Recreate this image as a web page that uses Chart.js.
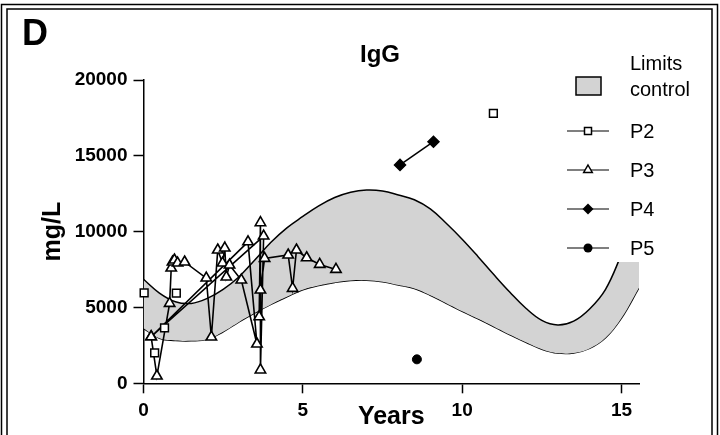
<!DOCTYPE html>
<html>
<head>
<meta charset="utf-8">
<script src="https://cdn.jsdelivr.net/npm/chart.js@4.4.0/dist/chart.umd.min.js"></script>
<style>
  body { margin: 0; background: #fff; }
  #wrap { width: 720px; height: 435px; }
</style>
</head>
<body>
<div id="wrap"><canvas id="chart" width="720" height="435"></canvas></div>
<script>
const xTicks = [0, 5, 10, 15];
const yTicks = [0, 5000, 10000, 15000, 20000];

// control limits (upper / lower curve of the grey band)
const limitYears = [0, 0.5, 1, 1.5, 2, 2.5, 3, 3.5, 4, 4.5, 5, 5.5, 6, 6.5, 7, 7.5, 8, 8.5,
  9, 9.5, 10, 10.5, 11, 11.5, 12, 12.5, 13, 13.5, 14, 14.5, 15, 15.55];
const limitUpper = [6860, 5950, 5380, 5270, 5600, 6200, 7030, 8150, 9300, 10250, 11000, 11700,
  12250, 12600, 12740, 12680, 12420, 12100, 11500, 10550, 9500, 8350, 7150, 6000, 4950, 4150,
  3850, 4100, 4900, 6200, 8500, 11200];
const limitLower = [3630, 2970, 2820, 2800, 2900, 3400, 4050, 4650, 5200, 5700, 6170, 6450,
  6650, 6780, 6800, 6700, 6480, 6250, 5800, 5280, 4750, 4250, 3730, 3200, 2700, 2250,
  1990, 2000, 2300, 3000, 4300, 6300];

const p2Years = [0.02, 0.35, 0.66, 1.03, 10.98];
const p2Values = [5970, 2000, 3650, 5950, 17800];

// P3 in the order the samples are joined
const p3Years = [6.04, 5.53, 5.12, 4.80, 4.68, 4.54, 3.80, 3.67, 3.63, 3.67, 3.67, 3.77,
  0.24, 0.42, 0.82, 0.87, 0.91, 0.97, 1.07, 1.29, 1.97, 2.13, 2.33, 2.48, 2.55, 2.60, 2.70,
  3.07, 3.56, 3.28, 0.24];
const p3Values = [7510, 7840, 8280, 8790, 6260, 8460, 8240, 6150, 4390, 10590, 880, 9710,
  3070, 480, 5270, 7600, 8000, 8130, 7930, 8000, 6940, 3050, 8790, 7930, 8920, 7010, 7800,
  6810, 2590, 9330, 3070];

const p4Years = [8.05, 9.1];
const p4Values = [14400, 15930];

const p5Years = [8.58];
const p5Values = [1580];

const FONT = "'Liberation Sans', Arial, sans-serif";

function pts(xs, ys) {
  return xs.map((x, i) => ({ x: x, y: ys[i] }));
}

function drawMarker(ctx, style, x, y) {
  ctx.save();
  ctx.lineWidth = 1.5;
  ctx.strokeStyle = "#000";
  ctx.beginPath();
  if (style === "rect") {
    ctx.fillStyle = "#fff";
    ctx.rect(x - 3.5, y - 3.5, 7, 7);
    ctx.fill();
    ctx.stroke();
  } else if (style === "triangle") {
    ctx.fillStyle = "#fff";
    ctx.moveTo(x, y - 5);
    ctx.lineTo(x + 4.3, y + 2.5);
    ctx.lineTo(x - 4.3, y + 2.5);
    ctx.closePath();
    ctx.fill();
    ctx.stroke();
  } else if (style === "rectRot") {
    ctx.fillStyle = "#000";
    ctx.moveTo(x, y - 5.5);
    ctx.lineTo(x + 5.5, y);
    ctx.lineTo(x, y + 5.5);
    ctx.lineTo(x - 5.5, y);
    ctx.closePath();
    ctx.fill();
  } else {
    ctx.fillStyle = "#000";
    ctx.arc(x, y, 4.5, 0, Math.PI * 2);
    ctx.fill();
  }
  ctx.restore();
}

const decorPlugin = {
  id: "decor",
  beforeDraw(chart) {
    const ctx = chart.ctx;
    ctx.save();
    ctx.fillStyle = "#fff";
    ctx.fillRect(0, 0, chart.width, chart.height);
    ctx.restore();
  },
  afterDatasetsDraw(chart) {
    const ctx = chart.ctx;
    ctx.save();
    // legend box
    ctx.fillStyle = "#fff";
    ctx.fillRect(562, 46, 140, 216);

    ctx.fillStyle = "#d3d3d3";
    ctx.fillRect(576, 77, 25, 18);
    ctx.lineWidth = 1.5;
    ctx.strokeStyle = "#000";
    ctx.strokeRect(576, 77, 25, 18);

    ctx.fillStyle = "#000";
    ctx.font = "20px " + FONT;
    ctx.textAlign = "left";
    ctx.textBaseline = "alphabetic";
    ctx.fillText("Limits", 630, 70);
    ctx.fillText("control", 630, 96);

    const items = [
      { label: "P2", style: "rect", y: 131 },
      { label: "P3", style: "triangle", y: 170 },
      { label: "P4", style: "rectRot", y: 209 },
      { label: "P5", style: "circle", y: 248 }
    ];
    items.forEach((it) => {
      ctx.beginPath();
      ctx.lineWidth = 1.2;
      ctx.moveTo(567, it.y);
      ctx.lineTo(609, it.y);
      ctx.stroke();
      drawMarker(ctx, it.style, 588, it.y);
      ctx.fillStyle = "#000";
      ctx.textBaseline = "middle";
      ctx.fillText(it.label, 630, it.y + 1);
    });
    ctx.restore();
  },
  afterDraw(chart) {
    const ctx = chart.ctx;
    ctx.save();
    ctx.fillStyle = "#000";
    ctx.textBaseline = "alphabetic";
    ctx.font = "bold 36px " + FONT;
    ctx.textAlign = "left";
    ctx.fillText("D", 22, 45);
    ctx.font = "bold 24px " + FONT;
    ctx.textAlign = "center";
    ctx.fillText("IgG", 380, 62);

    // double frame
    ctx.strokeStyle = "#000";
    ctx.lineWidth = 1.5;
    ctx.beginPath();
    ctx.moveTo(1.5, 435); ctx.lineTo(1.5, 4.5); ctx.lineTo(717.5, 4.5); ctx.lineTo(717.5, 435);
    ctx.moveTo(7, 435); ctx.lineTo(7, 9); ctx.lineTo(712, 9); ctx.lineTo(712, 435);
    ctx.stroke();
    ctx.restore();
  }
};

const axisFont = { family: FONT, size: 19, weight: "bold" };

new Chart(document.getElementById("chart"), {
  type: "line",
  data: {
    datasets: [
      {
        label: "P2",
        data: pts(p2Years, p2Values),
        showLine: false,
        pointStyle: "rect",
        pointRadius: 5.5,
        pointBackgroundColor: "#fff",
        pointBorderColor: "#000",
        pointBorderWidth: 1.5,
        clip: false,
        order: 1
      },
      {
        label: "P3",
        data: pts(p3Years, p3Values),
        borderColor: "#000",
        borderWidth: 1.6,
        tension: 0,
        pointStyle: "triangle",
        pointRadius: 6,
        pointBackgroundColor: "#fff",
        pointBorderColor: "#000",
        pointBorderWidth: 1.6,
        clip: false,
        order: 2
      },
      {
        label: "P4",
        data: pts(p4Years, p4Values),
        borderColor: "#000",
        borderWidth: 1.5,
        pointStyle: "rectRot",
        pointRadius: 5.5,
        pointBackgroundColor: "#000",
        pointBorderColor: "#000",
        clip: false,
        order: 1
      },
      {
        label: "P5",
        data: pts(p5Years, p5Values),
        pointStyle: "circle",
        pointRadius: 4.5,
        pointBackgroundColor: "#000",
        pointBorderColor: "#000",
        clip: false,
        order: 1
      },
      {
        label: "Limits upper",
        data: pts(limitYears, limitUpper),
        borderColor: "#000",
        borderWidth: 1.5,
        backgroundColor: "#d3d3d3",
        fill: "+1",
        tension: 0.4,
        pointRadius: 0,
        order: 10
      },
      {
        label: "Limits lower",
        data: pts(limitYears, limitLower),
        borderColor: "#000",
        borderWidth: 1.5,
        fill: false,
        tension: 0.4,
        pointRadius: 0,
        order: 11
      }
    ]
  },
  options: {
    responsive: false,
    animation: false,
    events: [],
    layout: { padding: { left: 0, right: 81, top: 80, bottom: 0 } },
    plugins: {
      legend: { display: false },
      tooltip: { enabled: false }
    },
    scales: {
      x: {
        type: "linear",
        min: 0,
        max: 15.55,
        afterBuildTicks: (scale) => { scale.ticks = xTicks.map((v) => ({ value: v })); },
        afterFit: (scale) => { scale.height = 51.7; },
        grid: { display: true, drawOnChartArea: false, drawTicks: true, tickLength: 10, tickColor: "#000", tickWidth: 1.5 },
        border: { display: true, color: "#000", width: 1.5 },
        ticks: { color: "#000", font: axisFont, padding: 6, maxRotation: 0 },
        title: {
          display: true,
          text: "Years",
          color: "#000",
          font: { family: FONT, size: 25, weight: "bold" },
          padding: { top: 0, bottom: 3 }
        }
      },
      y: {
        type: "linear",
        min: 0,
        max: 20000,
        afterBuildTicks: (scale) => { scale.ticks = yTicks.map((v) => ({ value: v })); },
        afterFit: (scale) => { scale.width = 143.5; },
        grid: { display: true, drawOnChartArea: false, drawTicks: true, tickLength: 10, tickColor: "#000", tickWidth: 1.5 },
        border: { display: true, color: "#000", width: 1.5 },
        ticks: { color: "#000", font: axisFont, padding: 6, callback: (v) => String(v) },
        title: {
          display: true,
          text: "mg/L",
          color: "#000",
          font: { family: FONT, size: 25, weight: "bold" },
          padding: { top: 38, bottom: 0 }
        }
      }
    }
  },
  plugins: [decorPlugin]
});
</script>
</body>
</html>
